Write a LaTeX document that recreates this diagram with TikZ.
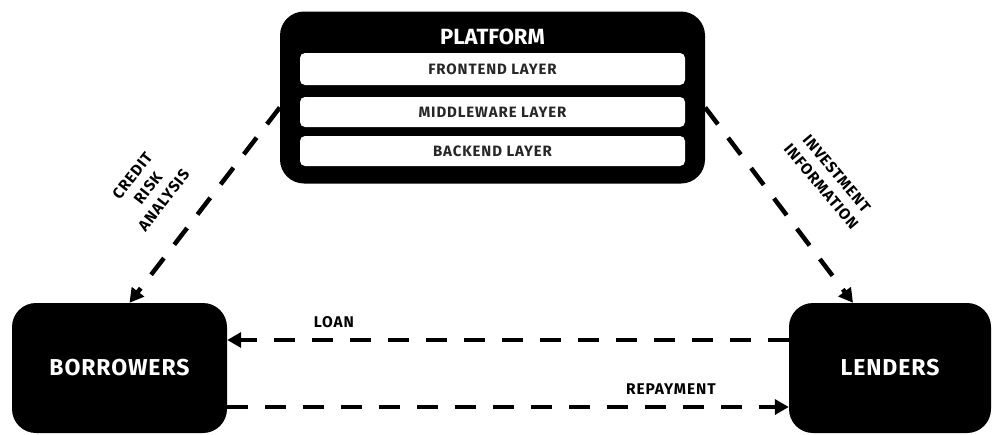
\documentclass[tikz,border=0pt]{standalone}
\usepackage{fontspec}
\setmainfont{Fira Sans}
\newfontfamily\widefont[LetterSpace=6]{Fira Sans}
\newfontfamily\bigfont[LetterSpace=4]{Fira Sans}
\usetikzlibrary{positioning,arrows.meta}

\begin{document}
\begin{tikzpicture}[x=1pt, y=-1pt,
  blackbox/.style={fill=black, rounded corners=24pt, inner sep=0pt, text=white,
    font=\bigfont\fontsize{23}{25}\selectfont\bfseries},
  layerbox/.style={fill=white, rounded corners=5pt, minimum width=385pt,
    minimum height=30pt, inner sep=0pt, text=black!85,
    font=\widefont\fontsize{15}{17}\selectfont\bfseries},
  flow/.style={line width=4.5pt, dash pattern=on 21pt off 17pt,
    -{Triangle[length=14pt, width=15pt]}},
  tag/.style={font=\widefont\fontsize{15.5}{20}\selectfont\bfseries, align=center, inner sep=1pt}]
\useasboundingbox (0,0) rectangle (992,434);

\def\xp{492.5}
\def\xb{119.5}
\def\xl{890}
\def\yb{368}

\node[blackbox, minimum width=425pt, minimum height=172pt] (platform) at (\xp, 97.5) {};
\node[text=white, font=\fontsize{22}{24}\selectfont\bfseries] (title) at (\xp, 37) {PLATFORM};
\node[layerbox, minimum height=32pt] (front) at (\xp, 69) {FRONTEND LAYER};
\node[layerbox] (middle) at (\xp, 112) {MIDDLEWARE LAYER};
\node[layerbox] (back) at (\xp, 151) {BACKEND LAYER};

\node[blackbox, minimum width=215pt, minimum height=130pt] (borrowers) at (\xb, \yb) {BORROWERS};
\node[blackbox, minimum width=202pt, minimum height=130pt] (lenders) at (\xl, \yb) {LENDERS};

\draw[flow] ([yshift=-10pt]platform.west) -- ([xshift=10pt]borrowers.north);
\draw[flow] ([yshift=-10pt]platform.east) -- ([xshift=-37pt]lenders.north);
\draw[flow] ([yshift=28pt]lenders.west) -- node[pos=0.81, above=9pt, tag] {LOAN} ([yshift=28pt]borrowers.east);
\draw[flow] ([yshift=-39pt]borrowers.east) -- node[pos=0.79, above=9pt, tag] {REPAYMENT} ([yshift=-39pt]lenders.west);

\node[tag, rotate=52] (credit) at (148, 188) {CREDIT\\RISK\\ANALYSIS};
\node[tag, rotate=-50] (invest) at (829, 180) {INVESTMENT\\INFORMATION};

\end{tikzpicture}
\end{document}
